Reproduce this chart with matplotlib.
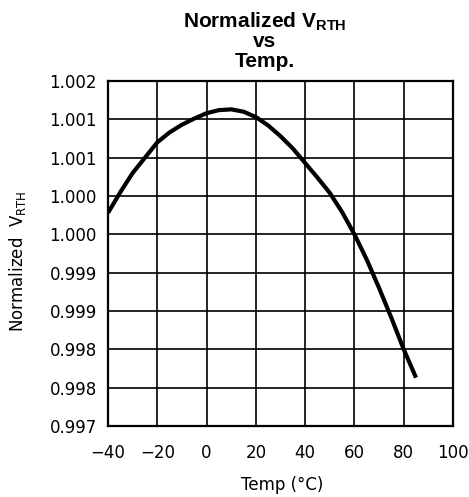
import numpy as np
import matplotlib
matplotlib.use("Agg")
import matplotlib.pyplot as plt

# Dados
temp = [-40, -35, -30, -25, -20, -15, -10, -5, 0, 5, 10, 15, 20, 25,
        30, 35, 40, 45, 50, 55, 60, 65, 70, 75, 80, 85]
vrth = [1.00028, 1.00055, 1.00080, 1.00100, 1.00120, 1.00133, 1.00143,
        1.00151, 1.00158, 1.00162, 1.00163, 1.00160, 1.00153, 1.00142,
        1.00128, 1.00112, 1.00093, 1.00074, 1.00054, 1.00029, 1.00000,
        0.99967, 0.99930, 0.99891, 0.99850, 0.99813]

x_ticks = [-40, -20, 0, 20, 40, 60, 80, 100]
y_ticks = [0.9975, 0.998, 0.9985, 0.999, 0.9995, 1.000, 1.0005, 1.001, 1.0015, 1.002]
y_labels = ["0.997", "0.998", "0.998", "0.999", "0.999",
            "1.000", "1.000", "1.001", "1.001", "1.002"]
x_labels = ["\u221240", "\u221220", "0", "20", "40", "60", "80", "100"]

plt.rcParams['mathtext.fontset'] = 'custom'
plt.rcParams['mathtext.bf'] = 'Liberation Sans:bold'
plt.rcParams['mathtext.rm'] = 'DejaVu Sans'

fig = plt.figure(figsize=(4.69, 4.97), dpi=100)
ax = fig.add_axes([108 / 469, 71 / 497, 345 / 469, 345 / 497])

ax.plot(temp, vrth, color='black', linewidth=3.0, solid_capstyle='butt')

ax.set_xlim(-40, 100)
ax.set_ylim(0.9975, 1.002)
ax.set_xticks(x_ticks)
ax.set_xticklabels(x_labels)
ax.set_yticks(y_ticks)
ax.set_yticklabels(y_labels)
ax.tick_params(length=0, labelsize=12)
ax.tick_params(axis='x', pad=13)
ax.tick_params(axis='y', pad=8)
ax.grid(True, color='black', linewidth=1.2)
for s in ax.spines.values():
    s.set_linewidth(1.6)

# Rótulos dos eixos
fig.text(282 / 469, 1 - 490 / 497, "Temp (\u00b0C)", ha='center', va='baseline', fontsize=12)
fig.text(18 / 469, 1 - 261 / 497, r"Normalized  V$_{\mathrm{RTH}}$", ha='center', va='center',
         rotation=90, fontsize=12)

# Título em três linhas
tx = 265 / 469
fig.text(tx, 1 - 27 / 497, r"Normalized V$_{\mathbf{RTH}}$", ha='center', va='baseline',
         fontsize=15, fontweight='bold', family='Liberation Sans')
fig.text(tx, 1 - 47 / 497, "vs", ha='center', va='baseline',
         fontsize=15, fontweight='bold', family='Liberation Sans')
fig.text(tx, 1 - 67 / 497, "Temp.", ha='center', va='baseline',
         fontsize=15, fontweight='bold', family='Liberation Sans')

fig.savefig("out.png", dpi=100)
